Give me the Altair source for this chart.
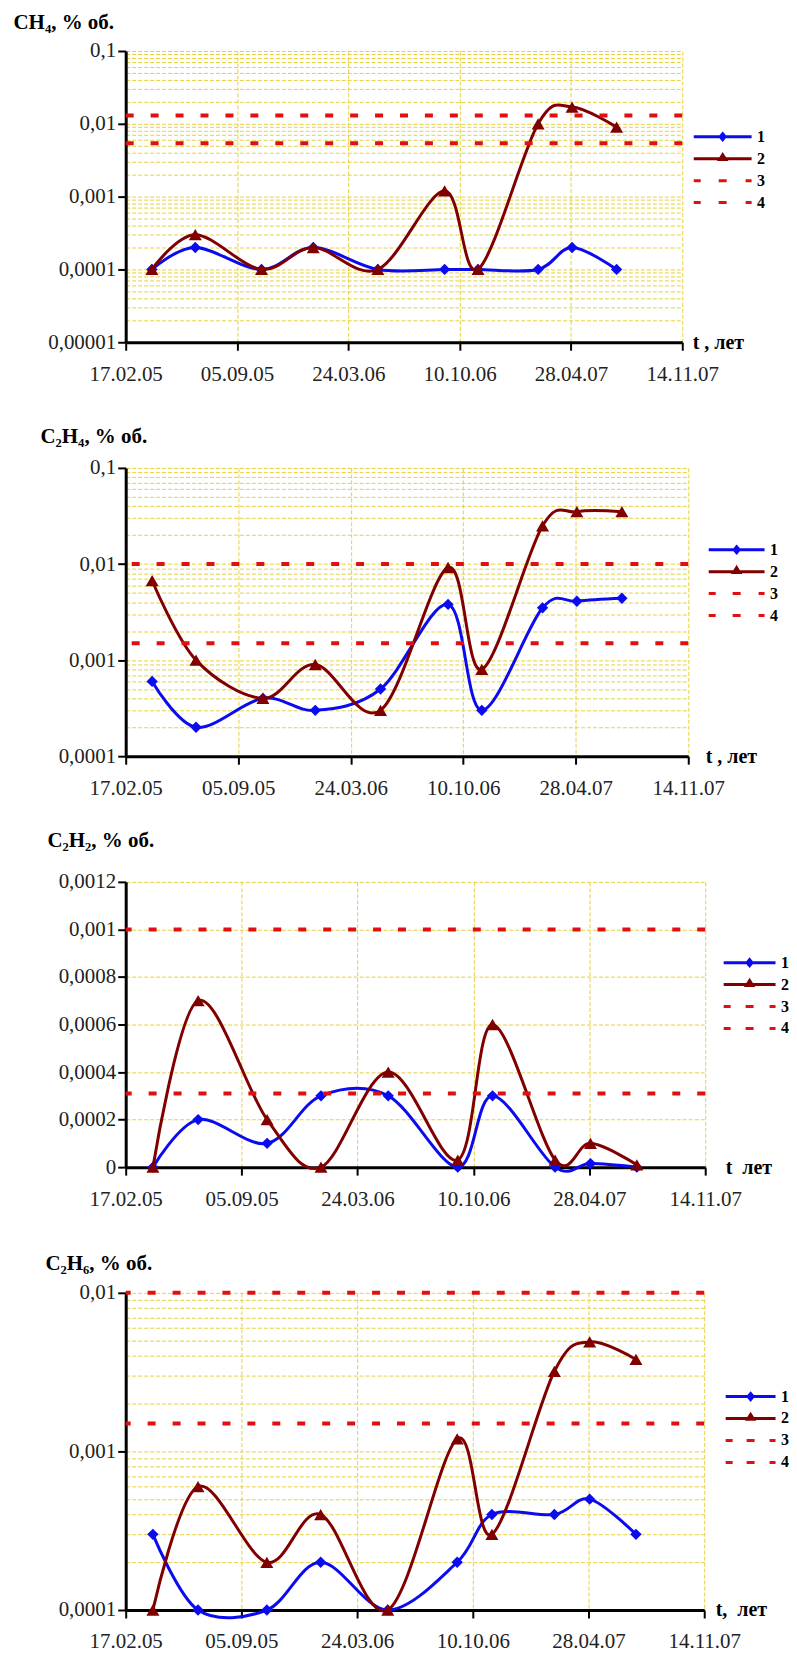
import altair as alt
import pandas as pd

FONT = "Liberation Serif"
BLUE = "#0B0BEF"
DARKRED = "#800000"
RED = "#E01010"
GRID = "#E6D23C"

# ---- data -------------------------------------------------------------
dates = ["2005-04-05T00:00:00", "2005-06-22T00:00:00", "2005-10-19T00:00:00",
         "2006-01-20T00:00:00", "2006-05-16T00:00:00", "2006-09-13T00:00:00",
         "2006-11-12T00:00:00", "2007-02-28T00:00:00", "2007-04-30T00:00:00",
         "2007-07-19T00:00:00"]

ch4_1 = [0.0001, 0.0002, 0.0001, 0.0002, 0.0001, 0.0001, 0.0001, 0.0001, 0.0002, 0.0001]
ch4_2 = [0.0001, 0.0003, 0.0001, 0.0002, 0.0001, 0.0012, 0.0001, 0.010, 0.017, 0.009]
ch4_thr = [0.013, 0.0054]

c2h4_1 = [0.0006, 0.0002, 0.0004, 0.0003, 0.0005, 0.0038, 0.0003, 0.0035, 0.0041, 0.0044]
c2h4_2 = [0.0067, 0.0010, 0.0004, 0.0009, 0.0003, 0.0092, 0.0008, 0.025, 0.035, 0.035]
c2h4_thr = [0.010, 0.0015]

c2h2_1 = [0.0, 0.0002, 0.0001, 0.0003, 0.0003, 0.0, 0.0003, 0.0, 0.000015, 0.0]
c2h2_2 = [0.0, 0.0007, 0.0002, 0.0, 0.0004, 0.00003, 0.0006, 0.00003, 0.0001, 0.00001]
c2h2_thr = [0.001, 0.00031]

c2h6_1 = [0.0003, 0.0001, 0.0001, 0.0002, 0.0001, 0.0002, 0.0004, 0.0004, 0.0005, 0.0003]
c2h6_2 = [0.0001, 0.0006, 0.0002, 0.0004, 0.0001, 0.0012, 0.0003, 0.0032, 0.0049, 0.0038]
c2h6_thr = [0.010, 0.0015]

series_names = ["1", "2", "3", "4"]
x_tick_dates = [(2005, 2, 17), (2005, 9, 5), (2006, 3, 24), (2006, 10, 10),
                (2007, 4, 28), (2007, 11, 14)]
lin_ticks = [0, 0.0002, 0.0004, 0.0006, 0.0008, 0.001, 0.0012]

# ---- helpers ----------------------------------------------------------
XT = [alt.DateTime(year=y, month=m, date=d) for (y, m, d) in x_tick_dates]
XDOM = [XT[0], XT[-1]]
DEC = "abs(log(datum.value)/LN10 - round(log(datum.value)/LN10)) < 0.01"


def log_grid(lo, hi):
    vals = []
    for e in range(lo, hi):
        for m in range(1, 10):
            vals.append(m * 10.0 ** e)
    vals.append(10.0 ** hi)
    return vals


def legend_shapes(w):
    r = w / 2.0
    u = lambda px: px / r - 1.0
    d = 2.5 / r
    p1 = f"M-1,0H1M0,{-1.2*d:.3f}L{d:.3f},0L0,{1.2*d:.3f}L{-d:.3f},0Z"
    tw, th = 3.0 / r, 4.0 / r
    p2 = f"M-1,0H1M0,{-th:.3f}L{tw:.3f},{0.2*th:.3f}L{-tw:.3f},{0.2*th:.3f}Z"
    segs = [(0, 7), (w / 2 - 4, w / 2 + 4), (w - 6, w)]
    p3 = "".join(f"M{u(a):.3f},0H{u(b):.3f}" for a, b in segs)
    return p1, p2, p3


def make_panel(s1, s2, thr, title, title_dx, title_dy, log, ydom, yvals,
               w, h, lx, ly, lw, xtitle, xtitle_dx):
    df1 = pd.DataFrame({"date": dates, "value": s1, "series": "1"})
    df2 = pd.DataFrame({"date": dates, "value": s2, "series": "2"})
    dft = pd.DataFrame({"value": thr, "series": ["3", "4"]})

    cscale = alt.Scale(domain=series_names, range=[BLUE, DARKRED, RED, RED])
    p1, p2, p3 = legend_shapes(lw)
    sscale = alt.Scale(domain=series_names, range=[p1, p2, p3, p3])
    legend = alt.Legend(
        title=None, orient="none", legendX=lx, legendY=ly, direction="vertical",
        symbolSize=lw * lw, clipHeight=22, rowPadding=0, padding=0,
        labelOffset=4, labelFont=FONT, labelFontSize=16, labelFontWeight="bold",
        labelColor="black", symbolStrokeWidth=3, symbolOpacity=1,
    )

    if log:
        yscale = alt.Scale(type="log", domain=ydom, nice=False)
        ylab = f"{DEC} ? replace(format(datum.value, '~g'), '.', ',') : ''"
        tick_op = {"condition": {"test": DEC, "value": 1}, "value": 0}
    else:
        yscale = alt.Scale(domain=ydom, nice=False, zero=False)
        ylab = "replace(format(datum.value, '~g'), '.', ',')"
        tick_op = 1

    yaxis = alt.Axis(values=yvals, labelExpr=ylab, labelOverlap=False, tickOpacity=tick_op,
                     grid=True, gridColor=GRID, gridDash=[4, 2], gridWidth=1,
                     domainColor="black", domainWidth=3, tickColor="black", tickWidth=2,
                     tickSize=8, labelFont=FONT, labelFontSize=21, labelColor="#222",
                     labelPadding=2,
                     title=title, titleX=title_dx, titleY=title_dy, titleAngle=0,
                     titleAlign="left", titleBaseline="alphabetic", titleFont=FONT,
                     titleFontSize=21, titleFontWeight="bold", titleColor="black")

    xaxis = alt.Axis(values=XT, format="%d.%m.%y", labelFlush=False, labelOverlap=False,
                     grid=True, gridColor=GRID, gridDash=[4, 2], gridWidth=1,
                     domainColor="black", domainWidth=3, tickColor="black",
                     tickWidth=2, tickSize=8, labelFont=FONT, labelFontSize=21,
                     labelColor="#222", labelPadding=13,
                     title=xtitle, titleX=w + xtitle_dx, titleY=0, titleAlign="left",
                     titleBaseline="middle", titleAngle=0, titleFont=FONT,
                     titleFontSize=20, titleFontWeight="bold", titleColor="black")

    X = alt.X("date:T", scale=alt.Scale(domain=XDOM), axis=xaxis)
    Y = alt.Y("value:Q", scale=yscale, axis=yaxis)
    CL = alt.Color("series:N", scale=cscale, legend=legend)
    SL = alt.Shape("series:N", scale=sscale, legend=legend)

    line1 = alt.Chart(df1).mark_line(interpolate="cardinal", strokeWidth=3,
                                     color=BLUE).encode(x=X, y=Y)
    pts1 = alt.Chart(df1).mark_point(shape="diamond", filled=True, size=130,
                                     color=BLUE, opacity=1).encode(x=X, y=Y)
    line2 = alt.Chart(df2).mark_line(interpolate="cardinal", strokeWidth=3,
                                     color=DARKRED).encode(x=X, y=Y)
    pts2 = alt.Chart(df2).mark_point(shape="triangle-up", filled=True, size=170,
                                     color=DARKRED, opacity=1).encode(x=X, y=Y)
    rules = alt.Chart(dft).mark_rule(strokeWidth=4, strokeDash=[8, 17],
                                     color=RED).encode(y=Y)
    # layer without marks that only carries the legend (line + marker symbols)
    legend_carrier = alt.Chart(dft).transform_filter("false").mark_point(
        filled=False, strokeWidth=3, opacity=1).encode(y=Y, color=CL, shape=SL)

    return alt.layer(line1, pts1, line2, pts2, rules, legend_carrier).properties(
        width=w, height=h)


p1 = make_panel(ch4_1, ch4_2, ch4_thr, "CH\u2084, % об.", -113, -23, True,
                [1e-5, 0.1], log_grid(-5, -1), 558, 292, 568, 75, 58,
                "t , лет", 10)
p2 = make_panel(c2h4_1, c2h4_2, c2h4_thr, "C\u2082H\u2084, % об.", -86, -25, True,
                [1e-4, 0.1], log_grid(-4, -1), 564, 289, 583, 71, 56,
                "t , лет", 17)
p3 = make_panel(c2h2_1, c2h2_2, c2h2_thr, "C\u2082H\u2082, % об.", -79, -35, False,
                [0, 0.0012], lin_ticks, 581, 286, 598, 70, 52,
                "t \u00a0лет", 20)
p4 = make_panel(c2h6_1, c2h6_2, c2h6_thr, "C\u2082H\u2086, % об.", -81, -23, True,
                [1e-4, 0.01], log_grid(-4, -2), 580, 318, 600, 93, 50,
                "t, \u00a0лет", 11)

chart = alt.vconcat(p1, p2, p3, p4, spacing=126, bounds="flush").resolve_scale(
    x="independent", y="independent", color="independent", shape="independent"
).resolve_legend(color="independent", shape="independent").properties(
    padding={"left": 5, "top": 1, "right": 0, "bottom": 0}
).configure_view(stroke=None)

chart.save("out.html", embed_options={"renderer": "svg", "actions": False})
